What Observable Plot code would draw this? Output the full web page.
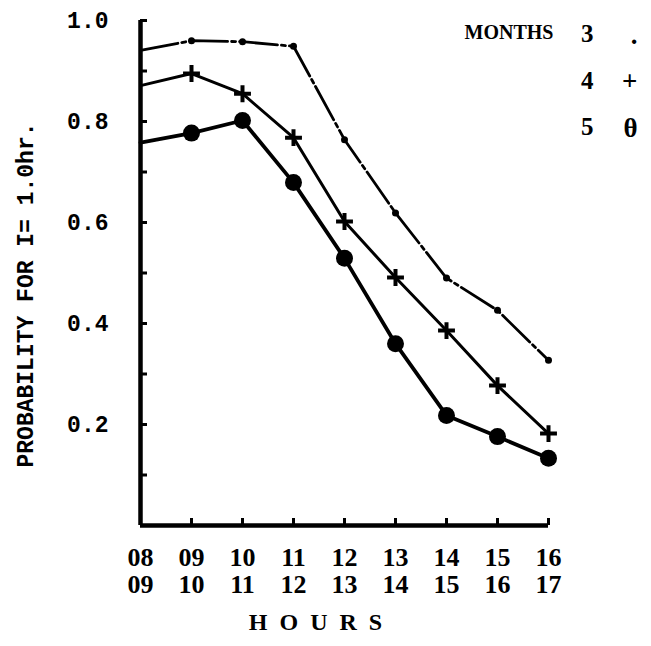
<!DOCTYPE html>
<html><head><meta charset="utf-8">
<script src="https://cdn.jsdelivr.net/npm/d3@7"></script>
<script src="https://cdn.jsdelivr.net/npm/@observablehq/plot@0.6"></script>
<style>body{margin:0;background:#fff} #chart svg{display:block}</style>
</head><body><div id="chart"></div>
<script>
// Hour intervals (two-row tick labels)
const hourStart = ["08","09","10","11","12","13","14","15","16"];
const hourEnd   = ["09","10","11","12","13","14","15","16","17"];
// Probability for I = 1.0 hr, by months
const month3 = [0.941,0.960,0.958,0.949,0.764,0.619,0.490,0.426,0.327];
const month4 = [0.871,0.895,0.855,0.768,0.602,0.491,0.386,0.277,0.182];
const month5 = [0.758,0.777,0.802,0.679,0.529,0.360,0.218,0.176,0.133];
// Legend
const months = ["3","4","5"];
const legendSymbols = [".","+","θ"];
// Axis ticks
const yTickValues = [0.1,0.2,0.3,0.4,0.5,0.6,0.7,0.8,0.9,1.0];
const yTickLabels = [0.2,0.4,0.6,0.8,1.0];

const toRows = (vals) => vals.map((v, i) => ({i, v}));
const d3rows = toRows(month3), d4rows = toRows(month4), d5rows = toRows(month5);
const xIdx = d3.range(hourStart.length);

const mono = "'Liberation Mono', 'DejaVu Sans Mono', monospace";
const serif = "'Liberation Serif', 'DejaVu Serif', serif";

const chart = Plot.plot({
  width: 651, height: 646,
  marginLeft: 140, marginRight: 103, marginTop: 20, marginBottom: 121,
  x: {domain: [0, xIdx.length - 1]},
  y: {domain: [0, 1]},
  style: {background: "#fff", color: "#000"},
  marks: [
    Plot.line(d3rows, {x: "i", y: "v", stroke: "#000", strokeWidth: 2.8, strokeDasharray: "38,4,4,4"}),
    Plot.line(d4rows, {x: "i", y: "v", stroke: "#000", strokeWidth: 3}),
    Plot.line(d5rows, {x: "i", y: "v", stroke: "#000", strokeWidth: 3.8}),
    Plot.dot(d3rows.filter(d => d.i > 0), {x: "i", y: "v", r: 3.5, fill: "#000"}),
    Plot.dot(d4rows.filter(d => d.i > 0), {x: "i", y: "v", symbol: "plus", r: 5.5, stroke: "#000", strokeWidth: 4}),
    Plot.dot(d5rows.filter(d => d.i > 0), {x: "i", y: "v", r: 8.5, fill: "#000"}),
    // y ticks (inward) and labels
    Plot.axisY(yTickValues, {tickSize: -7, strokeWidth: 3, tickFormat: () => "", label: null}),
    Plot.axisY(yTickLabels, {tickSize: 0, tickPadding: 32, tickFormat: d => d.toFixed(1), fontSize: 23, fontFamily: mono, fontWeight: "bold", label: null}),
    // x ticks (upward) and two-row labels
    Plot.axisX(xIdx.slice(1), {tickSize: -7, strokeWidth: 3, tickFormat: () => "", label: null}),
    Plot.axisX(xIdx, {tickSize: 0, tickPadding: 21, tickFormat: i => hourStart[i] + "\n" + hourEnd[i], lineHeight: 1.05, fontSize: 26, fontFamily: serif, fontWeight: "bold", label: null}),
    // axis lines
    Plot.ruleX([0], {stroke: "#000", strokeWidth: 4.5}),
    Plot.ruleY([0], {stroke: "#000", strokeWidth: 4.5}),
    // axis titles
    Plot.text(["H\u2002O\u2002U\u2002R\u2002S"], {frameAnchor: "bottom", dx: -29, dy: 104, fontSize: 24, fontFamily: serif, fontWeight: "bold"}),
    Plot.text(["PROBABILITY FOR I= 1.0hr."], {frameAnchor: "left", textAnchor: "middle", rotate: -90, dx: -115, dy: 22, fontSize: 23, fontFamily: mono, fontWeight: "bold"}),
    // legend
    Plot.text(["MONTHS"], {frameAnchor: "top-right", textAnchor: "end", dx: 5, dy: 4, fontSize: 20, fontFamily: serif, fontWeight: "bold"}),
    ...months.map((m, k) => Plot.text([m], {frameAnchor: "top-right", dx: 45, dy: 4 + k * 46.5, fontSize: 25, fontFamily: serif, fontWeight: "bold"})),
    ...legendSymbols.map((s, k) => Plot.text([s], {frameAnchor: "top-right", dx: 89, dy: 4 + k * 46.5, fontSize: 27, fontFamily: serif, fontWeight: "bold"}))
  ]
});
document.getElementById("chart").append(chart);
</script>
</body></html>
